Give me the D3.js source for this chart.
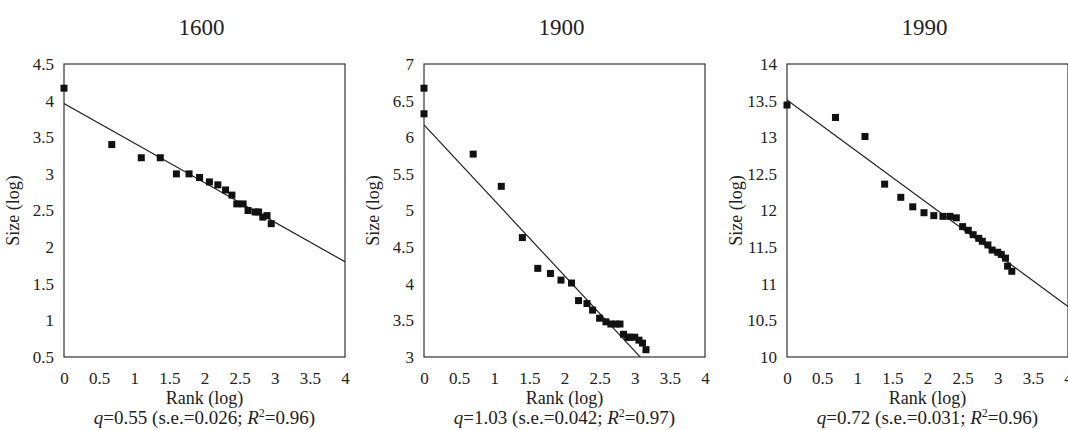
<!DOCTYPE html>
<html>
<head>
<meta charset="utf-8">
<script src="https://cdnjs.cloudflare.com/ajax/libs/d3/7.8.5/d3.min.js"></script>
<style>
	body { margin: 0; background: #fff; }
	text { font-family: "Liberation Serif", "Times New Roman", serif; fill: #222; }
</style>
</head>
<body>
<div id="chart"></div>
<script>
// values
var years = ["1600", "1900", "1990"];
var rankTicks = [0, 0.5, 1, 1.5, 2, 2.5, 3, 3.5, 4];
var sizeTicks1600 = [0.5, 1, 1.5, 2, 2.5, 3, 3.5, 4, 4.5];
var sizeTicks1900 = [3, 3.5, 4, 4.5, 5, 5.5, 6, 6.5, 7];
var sizeTicks1990 = [10, 10.5, 11, 11.5, 12, 12.5, 13, 13.5, 14];

var rank1600 = [0, 0.68, 1.10, 1.37, 1.60, 1.78, 1.93, 2.07, 2.19, 2.30, 2.39, 2.46, 2.55, 2.62, 2.72, 2.77, 2.83, 2.89, 2.95];
var size1600 = [4.17, 3.40, 3.22, 3.22, 3.00, 3.00, 2.95, 2.89, 2.85, 2.78, 2.71, 2.59, 2.59, 2.50, 2.48, 2.48, 2.41, 2.43, 2.32];

var rank1900 = [0, 0, 0.70, 1.10, 1.40, 1.62, 1.80, 1.95, 2.10, 2.20, 2.32, 2.40, 2.50, 2.59, 2.66, 2.73, 2.79, 2.84, 2.90, 2.93, 3.00, 3.06, 3.11, 3.16];
var size1900 = [6.67, 6.32, 5.77, 5.33, 4.63, 4.21, 4.14, 4.05, 4.01, 3.77, 3.73, 3.64, 3.53, 3.48, 3.45, 3.45, 3.45, 3.31, 3.27, 3.27, 3.27, 3.23, 3.19, 3.10];

var rank1990 = [0, 0.69, 1.11, 1.39, 1.62, 1.79, 1.95, 2.09, 2.22, 2.32, 2.41, 2.50, 2.58, 2.65, 2.73, 2.78, 2.86, 2.92, 3.00, 3.05, 3.11, 3.14, 3.20];
var size1990 = [13.44, 13.27, 13.01, 12.36, 12.18, 12.05, 11.97, 11.93, 11.92, 11.92, 11.90, 11.78, 11.73, 11.67, 11.62, 11.58, 11.53, 11.46, 11.43, 11.40, 11.35, 11.24, 11.17];

// fitted line: value at rank 0 and slope
var fitIntercept = [3.96, 6.17, 13.51];
var fitSlope = [-0.54, -1.03, -0.705];
var qValue = ["0.55", "1.03", "0.72"];
var seValue = ["0.026", "0.042", "0.031"];
var r2Value = ["0.96", "0.97", "0.96"];

var panels = [
	{ rank: rank1600, size: size1600, ticks: sizeTicks1600 },
	{ rank: rank1900, size: size1900, ticks: sizeTicks1900 },
	{ rank: rank1990, size: size1990, ticks: sizeTicks1990 }
];

var svg = d3.select("#chart").append("svg")
	.attr("width", 1068)
	.attr("height", 430);

var panelLeft = [64, 424, 787],
	marginTop = 64,
	width = 281,
	height = 293,
	mark = 7;

panels.forEach(function(p, i) {
	var g = svg.append("g")
		.attr("transform", "translate(" + panelLeft[i] + "," + marginTop + ")");

	var x = d3.scaleLinear()
		.domain([0, 4])
		.range([0, width]);

	var y = d3.scaleLinear()
		.domain([p.ticks[0], p.ticks[p.ticks.length - 1]])
		.range([height, 0]);

	g.append("clipPath")
		.attr("id", "clip" + i)
		.append("rect")
		.attr("width", width)
		.attr("height", height);

	// frame
	g.append("rect")
		.attr("width", width)
		.attr("height", height)
		.attr("fill", "none")
		.attr("stroke", "#333")
		.attr("stroke-width", 1.2);

	// x axis
	var xAxis = g.append("g")
		.attr("transform", "translate(0," + height + ")")
		.call(d3.axisBottom(x).tickValues(rankTicks).tickSize(0).tickPadding(15).tickFormat(d3.format("")));
	xAxis.select(".domain").remove();
	xAxis.selectAll("text")
		.style("font-size", "17px")
		.style("font-family", "Liberation Serif");

	// y axis
	var yAxis = g.append("g")
		.call(d3.axisLeft(y).tickValues(p.ticks).tickSize(0).tickPadding(10).tickFormat(d3.format("")));
	yAxis.select(".domain").remove();
	yAxis.selectAll("text")
		.style("font-size", "17px")
		.style("font-family", "Liberation Serif");

	// regression line
	g.append("line")
		.attr("clip-path", "url(#clip" + i + ")")
		.attr("x1", x(0))
		.attr("y1", y(fitIntercept[i]))
		.attr("x2", x(4))
		.attr("y2", y(fitIntercept[i] + 4 * fitSlope[i]))
		.attr("stroke", "#222")
		.attr("stroke-width", 1.2);

	// points
	g.selectAll(".pt")
		.data(p.rank)
		.enter().append("rect")
		.attr("class", "pt")
		.attr("x", function(d) { return x(d) - mark / 2; })
		.attr("y", function(d, j) { return y(p.size[j]) - mark / 2; })
		.attr("width", mark)
		.attr("height", mark)
		.attr("fill", "#111");

	// title
	g.append("text")
		.attr("x", width / 2 - 3)
		.attr("y", -29)
		.attr("text-anchor", "middle")
		.style("font-size", "23px")
		.text(years[i]);

	g.append("text")
		.attr("transform", "translate(" + (-45) + "," + (height / 2) + ")rotate(-90)")
		.attr("text-anchor", "middle")
		.style("font-size", "18px")
		.text("Size (log)");

	g.append("text")
		.attr("x", width / 2)
		.attr("y", height + 47)
		.attr("text-anchor", "middle")
		.style("font-size", "18px")
		.text("Rank (log)");

	var note = g.append("text")
		.attr("x", width / 2)
		.attr("y", height + 67)
		.attr("text-anchor", "middle")
		.style("font-size", "19px");
	note.append("tspan").style("font-style", "italic").text("q");
	note.append("tspan").text("=" + qValue[i] + " (s.e.=" + seValue[i] + "; ");
	note.append("tspan").style("font-style", "italic").text("R");
	note.append("tspan").attr("dy", -7).style("font-size", "12px").text("2");
	note.append("tspan").attr("dy", 7).text("=" + r2Value[i] + ")");
});
</script>
</body>
</html>
